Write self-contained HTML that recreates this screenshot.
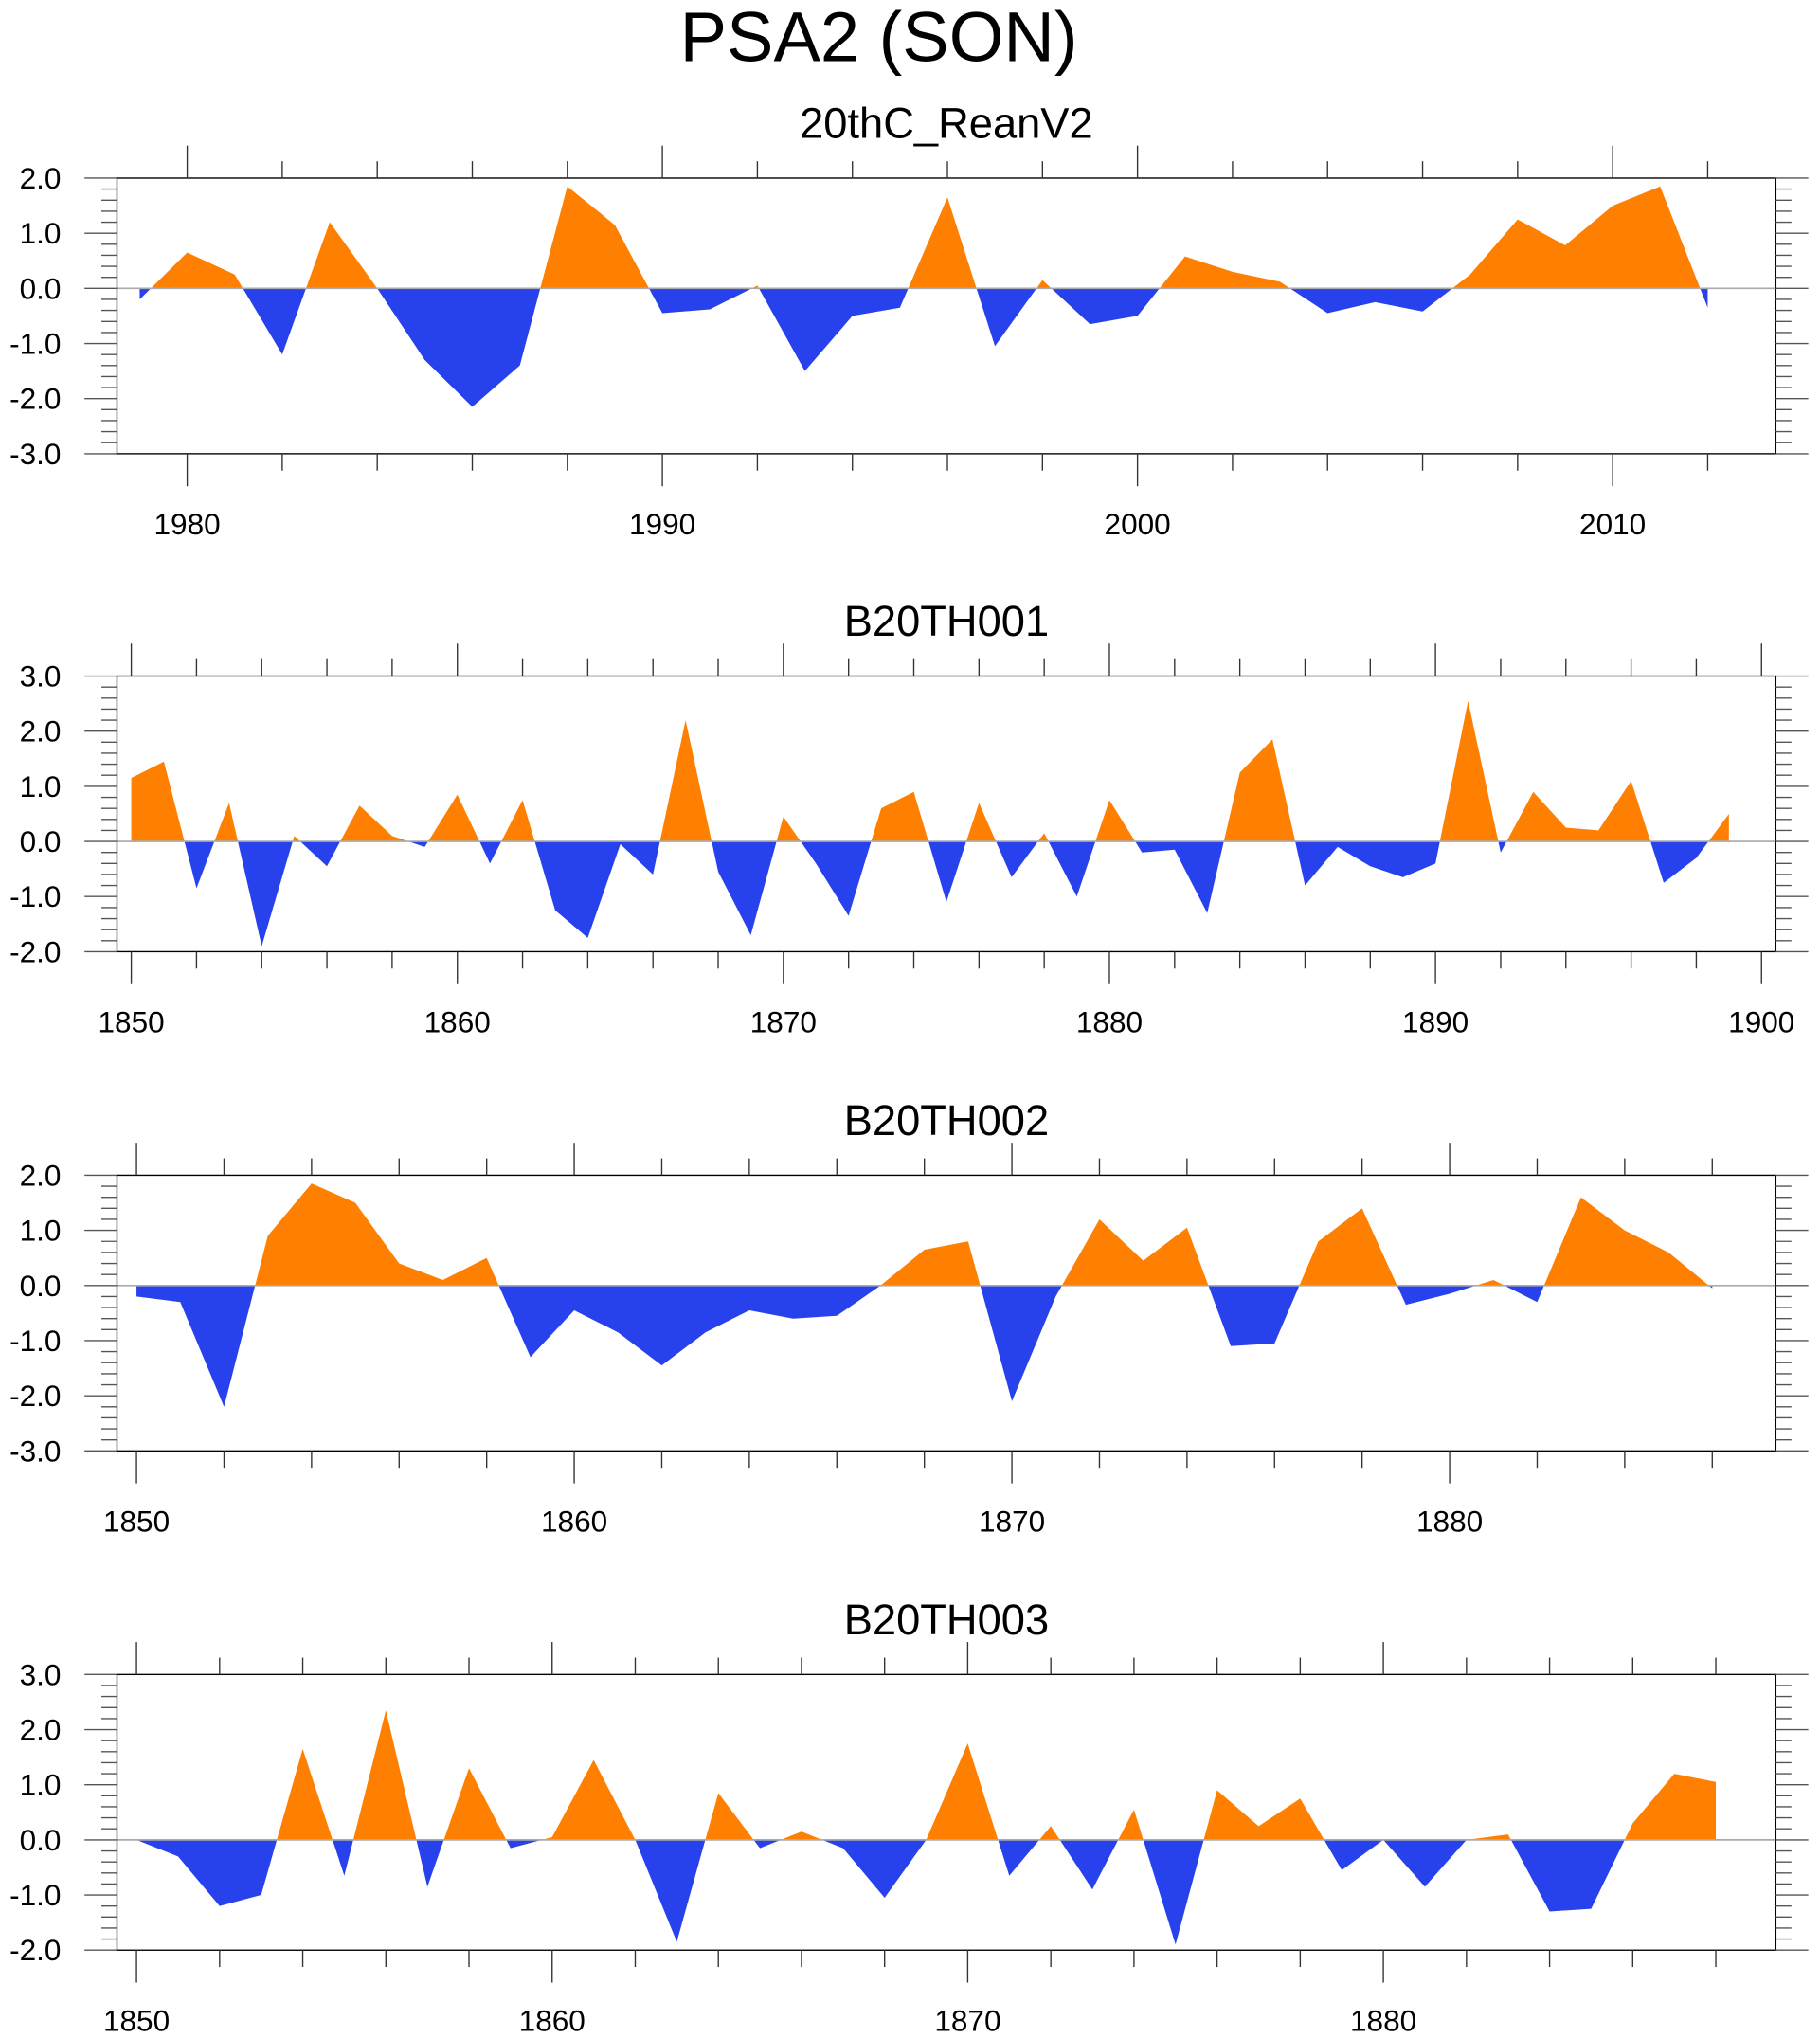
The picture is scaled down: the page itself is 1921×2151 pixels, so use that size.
<!DOCTYPE html>
<html><head><meta charset="utf-8"><style>
html,body{margin:0;padding:0;background:#fff;}
svg{display:block;font-family:"Liberation Sans",Arial,sans-serif;}
</style></head><body>
<svg id="chart" width="1921" height="2151" viewBox="0 0 1400 1567.6" preserveAspectRatio="none" xmlns="http://www.w3.org/2000/svg">
<text x="676" y="47" font-size="54" text-anchor="middle">PSA2 (SON)</text>
</svg>
<script>
// Panel 1: 20thC_ReanV2
const years1 = [1979,1980,1981,1982,1983,1984,1985,1986,1987,1988,1989,1990,1991,1992,1993,1994,1995,1996,1997,1998,1999,2000,2001,2002,2003,2004,2005,2006,2007,2008,2009,2010,2011,2012];
const values1 = [-0.2,0.65,0.25,-1.2,1.2,0.0,-1.3,-2.15,-1.4,1.85,1.15,-0.45,-0.38,0.05,-1.5,-0.5,-0.35,1.65,-1.05,0.15,-0.65,-0.5,0.58,0.3,0.12,-0.45,-0.25,-0.42,0.25,1.25,0.78,1.5,1.85,-0.35];
const xticks1 = [1980,1990,2000,2010];
const yticks1 = ["2.0","1.0","0.0","-1.0","-2.0","-3.0"];
// Panel 2: B20TH001
const years2 = [1850,1851,1852,1853,1854,1855,1856,1857,1858,1859,1860,1861,1862,1863,1864,1865,1866,1867,1868,1869,1870,1871,1872,1873,1874,1875,1876,1877,1878,1879,1880,1881,1882,1883,1884,1885,1886,1887,1888,1889,1890,1891,1892,1893,1894,1895,1896,1897,1898,1899];
const values2 = [1.15,1.45,-0.85,0.7,-1.9,0.1,-0.45,0.65,0.1,-0.1,0.85,-0.4,0.75,-1.25,-1.75,-0.05,-0.6,2.2,-0.55,-1.7,0.45,-0.4,-1.35,0.6,0.9,-1.1,0.7,-0.65,0.15,-1.0,0.75,-0.2,-0.15,-1.3,1.25,1.85,-0.8,-0.1,-0.45,-0.65,-0.4,2.55,-0.2,0.9,0.25,0.2,1.1,-0.75,-0.3,0.5];
const xticks2 = [1850,1860,1870,1880,1890,1900];
const yticks2 = ["3.0","2.0","1.0","0.0","-1.0","-2.0"];
// Panel 3: B20TH002
const years3 = [1850,1851,1852,1853,1854,1855,1856,1857,1858,1859,1860,1861,1862,1863,1864,1865,1866,1867,1868,1869,1870,1871,1872,1873,1874,1875,1876,1877,1878,1879,1880,1881,1882,1883,1884,1885,1886];
const values3 = [-0.2,-0.3,-2.2,0.9,1.85,1.5,0.4,0.1,0.5,-1.3,-0.45,-0.85,-1.45,-0.85,-0.45,-0.6,-0.55,0.0,0.65,0.8,-2.1,-0.2,1.2,0.45,1.05,-1.1,-1.05,0.8,1.4,-0.35,-0.15,0.1,-0.3,1.6,1.0,0.6,-0.05];
const xticks3 = [1850,1860,1870,1880];
const yticks3 = ["2.0","1.0","0.0","-1.0","-2.0","-3.0"];
// Panel 4: B20TH003
const years4 = [1850,1851,1852,1853,1854,1855,1856,1857,1858,1859,1860,1861,1862,1863,1864,1865,1866,1867,1868,1869,1870,1871,1872,1873,1874,1875,1876,1877,1878,1879,1880,1881,1882,1883,1884,1885,1886,1887,1888];
const values4 = [0.0,-0.3,-1.2,-1.0,1.65,-0.65,2.35,-0.85,1.3,-0.15,0.05,1.45,0.0,-1.85,0.85,-0.15,0.15,-0.15,-1.05,0.0,1.75,-0.65,0.25,-0.9,0.55,-1.9,0.9,0.25,0.75,-0.55,0.0,-0.85,0.0,0.1,-1.3,-1.25,0.3,1.2,1.05];
const xticks4 = [1850,1860,1870,1880];
const yticks4 = ["3.0","2.0","1.0","0.0","-1.0","-2.0"];

const svg = document.getElementById('chart');
const NS = 'http://www.w3.org/2000/svg';
function mk(tag, attrs){const e=document.createElementNS(NS,tag);for(const k in attrs)e.setAttribute(k,attrs[k]);return e;}

function panel(idx,title,titleName,years,values,xticks,yticks,top,x0,yr0,pxPerYr,ymax,ymin){
  const L=90,R=1366,B=top+212;
  const g=mk('g',{});
  
  
  svg.appendChild(g);
  const xs=y=>x0+(y-yr0)*pxPerYr;
  const ys=v=>top+(ymax-v)/(ymax-ymin)*212;
  const zy=ys(0);
  const t=mk('text',{x:728,y:top-31,'font-size':33,'text-anchor':'middle'});
  
  
  t.textContent=title;g.appendChild(t);
  const defs=mk('defs',{});
  const cp=mk('clipPath',{id:'pos'+idx});cp.appendChild(mk('rect',{x:L,y:top,width:R-L,height:zy-top}));
  const cn=mk('clipPath',{id:'neg'+idx});cn.appendChild(mk('rect',{x:L,y:zy,width:R-L,height:B-zy}));
  defs.appendChild(cp);defs.appendChild(cn);g.appendChild(defs);
  let d='M'+xs(years[0])+','+zy;
  years.forEach((y,i)=>{d+=' L'+xs(y)+','+ys(values[i]);});
  d+=' L'+xs(years[years.length-1])+','+zy+' Z';
  const pp=mk('path',{d:d,fill:'#ff8000','clip-path':'url(#pos'+idx+')'});
  
  
  g.appendChild(pp);
  const pn=mk('path',{d:d,fill:'#2741ec','clip-path':'url(#neg'+idx+')'});
  
  
  g.appendChild(pn);
  const zl=mk('line',{x1:L,x2:R,y1:zy,y2:zy,stroke:'#aaa','stroke-width':1.2});
  
  
  g.appendChild(zl);
  const fr=mk('rect',{x:L,y:top,width:R-L,height:212,fill:'none',stroke:'#000','stroke-width':1});
  
  
  g.appendChild(fr);
  const yA=Math.ceil((L-x0)/pxPerYr+yr0), yB=Math.floor((R-x0)/pxPerYr+yr0);
  for(let y=yA;y<=yB;y++){
    if(y%2!==0) continue;
    const x=xs(y), maj=(y%10===0), len=maj?25:13;
    g.appendChild(mk('line',{x1:x,x2:x,y1:top-len,y2:top,stroke:'#333','stroke-width':1}));
    g.appendChild(mk('line',{x1:x,x2:x,y1:B,y2:B+len,stroke:'#333','stroke-width':1}));
  }
  xticks.forEach(y=>{
    const tl=mk('text',{x:xs(y),y:B+62,'font-size':23,'text-anchor':'middle'});
    
    
    tl.textContent=y;g.appendChild(tl);
  });
  for(let k=0;k<=25;k++){
    const v=ymax-k*0.2, y=ys(v), maj=(k%5===0), len=maj?25:12;
    g.appendChild(mk('line',{x1:L-len,x2:L,y1:y,y2:y,stroke:'#555','stroke-width':1}));
    g.appendChild(mk('line',{x1:R,x2:R+len,y1:y,y2:y,stroke:'#555','stroke-width':1}));
  }
  yticks.forEach((s,k)=>{
    const tl=mk('text',{x:47,y:top+k*42.4+8,'font-size':23,'text-anchor':'end'});
    
    
    tl.textContent=s;g.appendChild(tl);
  });
}
panel(1,'20thC_ReanV2','20thc-reanv2',years1,values1,xticks1,yticks1,137,144,1980,36.55,2,-3);
panel(2,'B20TH001','b20th001',years2,values2,xticks2,yticks2,520,101,1850,25.08,3,-2);
panel(3,'B20TH002','b20th002',years3,values3,xticks3,yticks3,904,105,1850,33.67,2,-3);
panel(4,'B20TH003','b20th003',years4,values4,xticks4,yticks4,1288,105,1850,31.97,3,-2);
</script>
</body></html>
